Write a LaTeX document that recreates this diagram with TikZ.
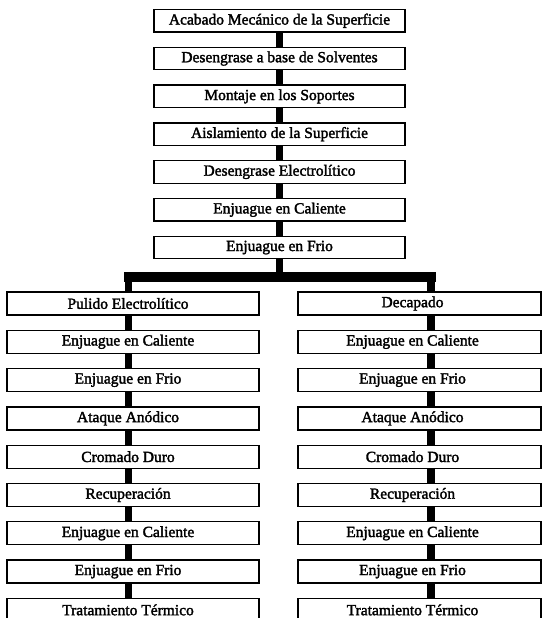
\documentclass[tikz,border=0pt]{standalone}
\usepackage{fontspec}
\newfontfamily\boxfont{Liberation Serif}[FakeBold=2]
\begin{document}
\begin{tikzpicture}[x=1pt,y=-1pt,
  box/.style={draw, line width=1.3pt, inner sep=0pt,
    font=\boxfont\fontsize{15.5}{18}\selectfont},
  topbox/.style={box, minimum width=251pt, minimum height=22.5pt},
  lbox/.style={box, minimum width=252pt, minimum height=23pt,
    execute at begin node={\hspace*{-10pt}}},
  rbox/.style={box, minimum width=243pt, minimum height=23pt,
    execute at begin node={\hspace*{-14pt}}},
  link/.style={line width=7.5pt},
  trunk/.style={line width=10pt, line cap=rect}]
\useasboundingbox (0,0) rectangle (548,618);
\clip (0,0) rectangle (548,618);

% common preparation steps
\foreach \t [count=\i] in {Acabado Mecánico de la Superficie,
    Desengrase a base de Solventes, Montaje en los Soportes,
    Aislamiento de la Superficie, Desengrase Electrolítico,
    Enjuague en Caliente, Enjuague en Frio}
  \node[topbox] (t\i) at (279.5,{20.75+37.8*(\i-1)}) {\t};

% left branch
\foreach \t [count=\i] in {Pulido Electrolítico, Enjuague en Caliente,
    Enjuague en Frio, Ataque Anódico, Cromado Duro, Recuperación,
    Enjuague en Caliente, Enjuague en Frio, Tratamiento Térmico}
  \node[lbox] (l\i) at (133,{303.5+38.3*(\i-1)}) {\t};

% right branch
\foreach \t [count=\i] in {Decapado, Enjuague en Caliente,
    Enjuague en Frio, Ataque Anódico, Cromado Duro, Recuperación,
    Enjuague en Caliente, Enjuague en Frio, Tratamiento Térmico}
  \node[rbox] (r\i) at (419.5,{303.5+38.3*(\i-1)}) {\t};

% spines
\coordinate (ls) at (128.5,0);
\coordinate (rs) at (431,0);
\coordinate (bar) at (0,277);

\foreach \i [evaluate=\i as \j using int(\i+1)] in {1,...,6}
  \draw[link] (t\i.south) -- (t\j.north);

\draw[link] (t7.south) -- (t7.south |- bar);
\draw[trunk] (ls |- bar) -- (rs |- bar);
\draw[link] (ls |- bar) -- (l1.north -| ls);
\draw[link] (rs |- bar) -- (r1.north -| rs);

\foreach \i [evaluate=\i as \j using int(\i+1)] in {1,...,8} {
  \draw[link] (l\i.south -| ls) -- (l\j.north -| ls);
  \draw[link] (r\i.south -| rs) -- (r\j.north -| rs);
}
\end{tikzpicture}
\end{document}
